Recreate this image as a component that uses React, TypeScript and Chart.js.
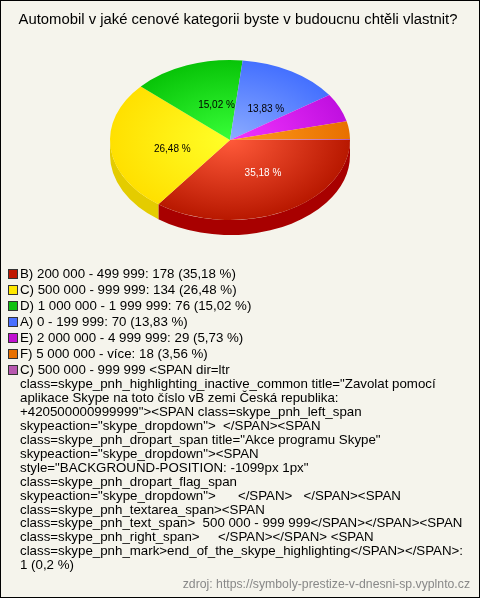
import React, { useEffect, useRef } from "react";
import { Chart, registerables } from "chart.js";

Chart.register(...registerables);

const titleText = "Automobil v jaké cenové kategorii byste v budoucnu chtěli vlastnit?";
const sourceText = "zdroj: https://symboly-prestize-v-dnesni-sp.vyplnto.cz";
const categories = [
  "B) 200 000 - 499 999",
  "C) 500 000 - 999 999",
  "D) 1 000 000 - 1 999 999",
  "A) 0 - 199 999",
  "E) 2 000 000 - 4 999 999",
  "F) 5 000 000 - více",
  "C) 500 000 - 999 999 <SPAN dir=ltr",
];
const counts = [178, 134, 76, 70, 29, 18, 1];
const percents = ["35,18", "26,48", "15,02", "13,83", "5,73", "3,56", "0,2"];
const sliceLabels = ["35,18 %", "26,48 %", "15,02 %", "13,83 %", "", "", ""];
const labelColors = ["#ffffff", "#000000", "#000000", "#000000", "", "", ""];
const innerColors = ["#ff5a3a", "#ffff28", "#38ff38", "#8cacff", "#f434ff", "#ff9c1c", "#d070c8"];
const outerColors = ["#b81800", "#ffe000", "#08c408", "#4470ff", "#c010e0", "#e87000", "#b858b0"];
const legendColors = ["#c01800", "#ffe800", "#10c010", "#4a70ff", "#c010d0", "#e87000", "#b858b0"];
const sideColors = ["#a80000", "#e4cc00", "#08a008", "#3058d0", "#9808b0", "#c05c00", "#904890"];
const wrappedLines = [
  'class=skype_pnh_highlighting_inactive_common title="Zavolat pomocí',
  'aplikace Skype na toto číslo vB zemi Česká republika:',
  '+420500000999999"><SPAN class=skype_pnh_left_span',
  'skypeaction="skype_dropdown">  </SPAN><SPAN',
  'class=skype_pnh_dropart_span title="Akce programu Skype"',
  'skypeaction="skype_dropdown"><SPAN',
  'style="BACKGROUND-POSITION: -1099px 1px"',
  'class=skype_pnh_dropart_flag_span',
  'skypeaction="skype_dropdown">      </SPAN>   </SPAN><SPAN',
  'class=skype_pnh_textarea_span><SPAN',
  'class=skype_pnh_text_span>  500 000 - 999 999</SPAN></SPAN><SPAN',
  'class=skype_pnh_right_span>     </SPAN></SPAN> <SPAN',
  'class=skype_pnh_mark>end_of_the_skype_highlighting</SPAN></SPAN>:',
  '1 (0,2 %)',
];

const FONT = '"Liberation Sans", Arial, sans-serif';
const WIDTH = 480;
const HEIGHT = 598;
const SQUASH = 2 / 3;
const DEPTH = 15;
const LABEL_NUDGE = [
  [6, -2],
  [2, 5],
  [8, 3],
  [5, 4],
];

const framePlugin = {
  id: "frame",
  beforeDraw(chart: any) {
    const c = chart.ctx;
    c.save();
    c.fillStyle = "#f5f4ec";
    c.fillRect(0, 0, WIDTH, HEIGHT);
    c.strokeStyle = "#000000";
    c.lineWidth = 1;
    c.strokeRect(0.5, 0.5, WIDTH - 1, HEIGHT - 1);
    c.restore();
  },
};

const piePlugin = {
  id: "pie3d",
  beforeDatasetsDraw(chart: any) {
    const c = chart.ctx;
    const arcs = chart.getDatasetMeta(0).data;
    const first = arcs[0];
    const cx = first.x;
    const cy = first.y;
    const rx = first.outerRadius;
    const ry = rx * SQUASH;
    arcs.forEach((arc: any, i: number) => {
      const a0 = Math.max(arc.startAngle, 0);
      const a1 = Math.min(arc.endAngle, Math.PI);
      if (a1 <= a0) return;
      c.beginPath();
      c.ellipse(cx, cy, rx, ry, 0, a0, a1);
      c.ellipse(cx, cy + DEPTH, rx, ry, 0, a1, a0, true);
      c.closePath();
      c.fillStyle = sideColors[i];
      c.fill();
    });
    c.save();
    c.translate(cx, cy);
    c.scale(1, SQUASH);
    c.translate(-cx, -cy);
  },
  afterDatasetsDraw(chart: any) {
    const c = chart.ctx;
    c.restore();
    const arcs = chart.getDatasetMeta(0).data;
    const cy = arcs[0].y;
    c.save();
    c.font = `10px ${FONT}`;
    c.textAlign = "center";
    c.textBaseline = "middle";
    arcs.forEach((arc: any, i: number) => {
      if (!sliceLabels[i]) return;
      const p = arc.getCenterPoint();
      c.fillStyle = labelColors[i];
      c.fillText(sliceLabels[i], p.x + LABEL_NUDGE[i][0], cy + (p.y - cy) * SQUASH + LABEL_NUDGE[i][1]);
    });
    c.restore();
  },
  afterDraw(chart: any) {
    const c = chart.ctx;
    c.save();
    c.textBaseline = "middle";
    c.textAlign = "center";
    c.fillStyle = "#000000";
    c.font = `14.85px ${FONT}`;
    c.fillText(titleText, 238, 20);

    c.textAlign = "left";
    c.font = `13.3px ${FONT}`;
    categories.forEach((name, i) => {
      const y = 274 + i * 16;
      c.fillStyle = legendColors[i];
      c.fillRect(9, y - 4, 8, 8);
      c.strokeStyle = "#333333";
      c.lineWidth = 1;
      c.strokeRect(8.5, y - 4.5, 9, 9);
      c.fillStyle = "#000000";
      const text = i === categories.length - 1 ? name : `${name}: ${counts[i]} (${percents[i]} %)`;
      c.fillText(text, 20, y);
    });
    wrappedLines.forEach((line, i) => {
      c.fillText(line, 20, 384.5 + i * 13.93);
    });

    c.textAlign = "right";
    c.fillStyle = "#888888";
    c.font = `12.25px ${FONT}`;
    c.fillText(sourceText, 470, 585);
    c.restore();
  },
};

export default function App() {
  const ref = useRef<HTMLCanvasElement>(null);
  useEffect(() => {
    document.body.style.margin = "0";
    const chart = new Chart(ref.current as HTMLCanvasElement, {
      type: "pie",
      data: {
        labels: categories,
        datasets: [
          {
            data: counts,
            borderWidth: 0,
            backgroundColor: (ctx: any) => {
              const area = ctx.chart.chartArea;
              if (!area) return outerColors[ctx.dataIndex];
              const cx = (area.left + area.right) / 2;
              const cy = (area.top + area.bottom) / 2;
              const r = (area.right - area.left) / 2;
              const g = ctx.chart.ctx.createRadialGradient(cx, cy, 0, cx, cy, r);
              g.addColorStop(0, innerColors[ctx.dataIndex]);
              g.addColorStop(1, outerColors[ctx.dataIndex]);
              return g;
            },
          },
        ],
      },
      options: {
        responsive: false,
        animation: false,
        events: [],
        rotation: 90,
        layout: { padding: { left: 110, right: 130, top: 20, bottom: 338 } },
        plugins: {
          legend: { display: false },
          title: { display: false },
          tooltip: { enabled: false },
        },
      },
      plugins: [framePlugin, piePlugin],
    } as any);
    return () => chart.destroy();
  }, []);
  return <canvas ref={ref} width={WIDTH} height={HEIGHT} style={{ display: "block" }} />;
}
